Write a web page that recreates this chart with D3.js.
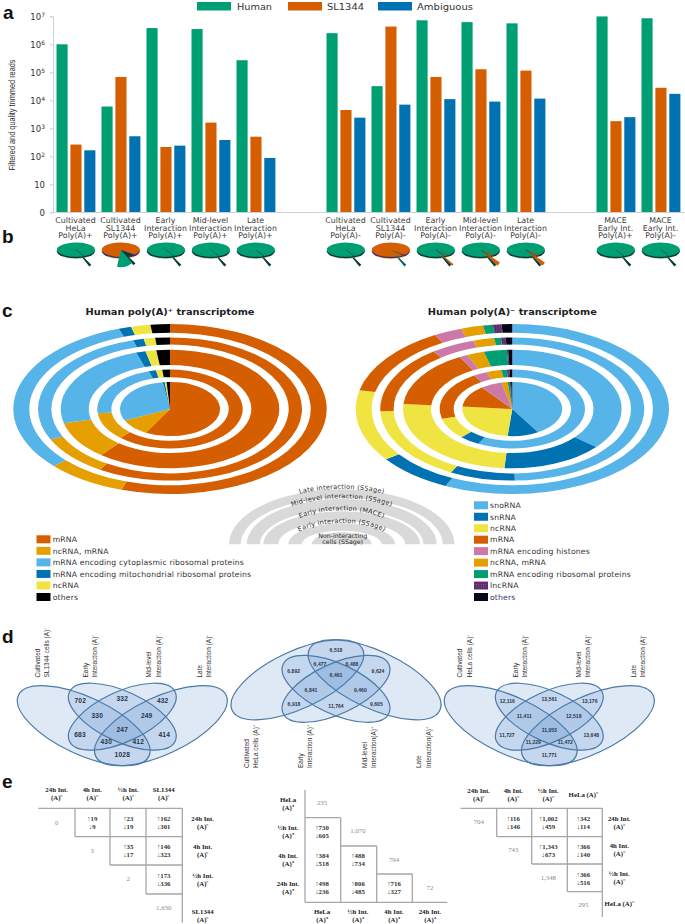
<!DOCTYPE html>
<html><head><meta charset="utf-8">
<script src="https://cdn.jsdelivr.net/npm/d3@7"></script>
<style>html,body{margin:0;padding:0;background:#fff}svg{display:block;opacity:.999}</style>
</head><body><svg id="c" width="685" height="924"></svg>
<script>
// ---------- DATA ----------
const groups = ["HeLaA+","SLA+","EarlyA+","MidA+","LateA+","gap1","HeLaA-","SLA-","EarlyA-","MidA-","LateA-","gap2","MaceA+","MaceA-"];
const groupLabels = [
 ["Cultivated","HeLa","Poly(A)+"],["Cultivated","SL1344","Poly(A)+"],["Early","Interaction","Poly(A)+"],["Mid-level","Interaction","Poly(A)+"],["Late","Interaction","Poly(A)+"],[],
 ["Cultivated","HeLa","Poly(A)-"],["Cultivated","SL1344","Poly(A)-"],["Early","Interaction","Poly(A)-"],["Mid-level","Interaction","Poly(A)-"],["Late","Interaction","Poly(A)-"],[],
 ["MACE","Early Int.","Poly(A)+"],["MACE","Early Int.","Poly(A)-"]];
const seriesNames = ["Human","SL1344","Ambiguous"];
const human     = [1000000,6000,3800000,3500000,270000,null,2500000,32000,7200000,6200000,5600000,null,9900000,8500000];
const sl1344    = [263,68000,215,1600,500,null,4500,4300000,68000,128000,115000,null,1800,28000];
const ambiguous = [164,520,240,383,87,null,2400,7000,11000,9000,11500,null,2500,17000];
const yTicks = [1,10,100,1000,10000,100000,1000000,10000000];

const plusTitle = "Human poly(A)\u207A transcriptome";
const plusCats = ["mRNA","ncRNA, mRNA","mRNA encoding cytoplasmic ribosomal proteins","mRNA encoding mitochondrial ribosomal proteins","ncRNA","others"];
const plusNonInteracting = [58.1,10.0,29.7,0.6,0.6,1.1];
const plusEarlySSage     = [61.9,11.3,22.0,1.6,1.4,1.7];
const plusEarlyMACE      = [60.8,10.3,23.8,1.4,1.6,2.0];
const plusMid            = [58.9,9.1,27.5,1.3,1.4,1.8];
const plusLate           = [55.0,8.3,31.4,1.3,2.0,2.0];

const minusTitle = "Human poly(A)\u207B transcriptome";
const minusCats = ["snoRNA","snRNA","ncRNA","mRNA","mRNA encoding histones","ncRNA, mRNA","mRNA encoding ribosomal proteins","lncRNA","others"];
const minusNonInteracting = [41.4,10.1,24.9,13.2,6.9,2.0,0.7,0.4,0.4];
const minusEarlySSage     = [57.8,4.6,8.7,20.2,3.0,3.4,1.2,0.6,0.6];
const minusEarlyMACE      = [36.1,15.1,25.2,15.7,1.2,2.6,3.4,0.2,0.6];
const minusMid            = [49.7,8.0,16.8,15.3,5.4,2.6,0.8,0.6,0.8];
const minusLate           = [56.9,7.9,13.6,13.2,2.9,2.3,1.0,0.9,1.1];

const keyLabels = ["Late interaction (SSage)","Mid-level interaction (SSage)","Early interaction (MACE)","Early interaction (SSage)"];
const keyCentre = ["Non-interacting","cells (SSage)"];

const vennSLValues    = ["702","332","432","330","249","683","247","414","430","412","1028"];
const vennHeLaPlusVal = ["6,918","11,764","9,605","6,841","9,460","6,892","6,461","9,624","6,477","6,488","6,518"];
const vennHeLaMinVal  = ["12,116","13,561","13,176","11,411","12,518","11,727","11,053","13,648","11,229","11,472","11,771"];
const vennSLNames   = [["Cultivated","SL1344 cells (A)\u207B"],["Early","Interaction (A)\u207B"],["Mid-level","Interaction (A)\u207B"],["Late","Interaction (A)\u207B"]];
const vennPlusNames = [["Cultivated","HeLa cells (A)\u207A"],["Early","Interaction (A)\u207A"],["Mid-level","Interaction(A)\u207A"],["Late","Interaction(A)\u207A"]];
const vennMinNames  = [["Cultivated","HeLa cells (A)\u207B"],["Early","Interaction (A)\u207B"],["Mid-level","Interaction (A)\u207B"],["Late","Interaction (A)\u207B"]];

const tblLeftHead = [["24h Int.","(A)\u207B"],["4h Int.","(A)\u207B"],["\u00BDh Int.","(A)\u207B"],["SL1344","(A)\u207B"]];
const tblLeftDiag = ["0","3","2","1,630"];
const tblLeftUp   = [["19","23","162"],["35","146"],["173"]];
const tblLeftDown = [["9","19","301"],["17","323"],["336"]];
const tblMidHead  = [["HeLa","(A)\u207A"],["\u00BDh Int.","(A)\u207A"],["4h Int.","(A)\u207A"],["24h Int.","(A)\u207A"]];
const tblMidDiag  = ["235","1,070","794","72"];
const tblMidUp    = [["730","384","498"],["488","806"],["716"]];
const tblMidDown  = [["605","518","236"],["734","485"],["327"]];
const tblRightHead = [["24h Int.","(A)\u207B"],["4h Int.","(A)\u207B"],["\u00BDh Int.","(A)\u207B"],["HeLa (A)\u207B"]];
const tblRightDiag = ["704","743","1,348","295"];
const tblRightUp   = [["116","1,002","342"],["1,343","366"],["366"]];
const tblRightDown = [["146","459","114"],["673","140"],["516"]];

// ---------- STYLE ----------
const GREEN="#009e73",ORANGE="#d55e00",BLUE="#0072b2",SKY="#56b4e9",AMBER="#e69f00",YELLOW="#f0e442",PINK="#cc79a7",BLACK="#000",NAVY="#06061a";
const WIDE="'DejaVu Sans',sans-serif", ARIAL="'Liberation Sans',Arial,sans-serif", SERIF="'Liberation Serif',serif";
const svg=d3.select("#c");
const defs=svg.append("defs");
const pat=defs.append("pattern").attr("id","lnc").attr("width",2.4).attr("height",2.4).attr("patternUnits","userSpaceOnUse");
pat.append("rect").attr("width",2.4).attr("height",2.4).attr("fill","#5a2a78");
pat.append("circle").attr("cx",1.2).attr("cy",1.2).attr("r",.45).attr("fill","#c9803a");
const LNC="url(#lnc)";
const plusColors=[ORANGE,AMBER,SKY,BLUE,YELLOW,BLACK];
const minusColors=[SKY,BLUE,YELLOW,ORANGE,PINK,AMBER,GREEN,LNC,NAVY];
const seriesColors=[GREEN,ORANGE,BLUE];

function txt(g,x,y,s,o={}){
  const t=g.append("text").attr("x",x).attr("y",y).text(s)
    .attr("font-family",o.f||WIDE).attr("font-size",o.s||8).attr("fill",o.c||"#333")
    .attr("text-anchor",o.a||"start");
  if(o.w)t.attr("font-weight",o.w);
  if(o.tl)t.attr("textLength",o.tl).attr("lengthAdjust","spacingAndGlyphs");
  return t;
}
// panel letters
[["a",3,19],["b",2,243],["c",2,317],["d",2,643],["e",2,788]].forEach(d=>txt(svg,d[1],d[2],d[0],{f:ARIAL,s:19,w:"bold",c:"#111"}));

// ---------- a: bars ----------
const x=d3.scaleBand().domain(groups).range([53,683]);
const xInner=d3.scaleBand().domain(seriesNames).range([-19,19.9]).paddingInner(.2);
const y=d3.scaleLog().domain([1,1e7]).range([212.3,16.3]);
const barsG=svg.append("g");
[human,sl1344,ambiguous].forEach((vals,si)=>{
  barsG.selectAll(null).data(vals.map((v,i)=>({v,i})).filter(d=>d.v!=null)).join("rect")
   .attr("x",d=>x(groups[d.i])+x.bandwidth()/2+xInner(seriesNames[si]))
   .attr("width",xInner.bandwidth())
   .attr("y",d=>y(d.v)).attr("height",d=>y(1)-y(d.v)).attr("fill",seriesColors[si]);
});
const sup={100:"2",1000:"3",10000:"4",100000:"5",1000000:"6",10000000:"7"};
const ya=svg.append("g").attr("transform","translate(53,0)")
  .call(d3.axisLeft(y).tickValues(yTicks).tickSize(3).tickFormat(()=>""));
ya.selectAll("line,path").attr("stroke","#c8d0dc");
ya.selectAll(".tick text").each(function(d){
  const t=d3.select(this).attr("x",-8).attr("dy",null).attr("y",3.2).attr("font-family",WIDE).attr("font-size",8.5).attr("fill","#333");
  if(d===1)t.text("0"); else if(d===10)t.text("10");
  else{t.text("10");t.append("tspan").attr("dy",-3).attr("font-size",6).text(sup[d]);}
});
svg.append("line").attr("x1",53).attr("x2",685).attr("y1",212.5).attr("y2",212.5).attr("stroke","#c8d0dc");
txt(svg,0,0,"Filtered and quality trimmed reads",{f:ARIAL,s:9,c:"#333",a:"middle",tl:111})
  .attr("transform","translate(15,115) rotate(-90)");
groups.forEach((g,i)=>groupLabels[i].forEach((s,j)=>{
  txt(svg,x(g)+x.bandwidth()/2,223+j*7.6,s,{s:7.9,a:"middle",c:"#3c3c3c"});
}));
// legend
[[197,237,35],[288,327,37],[378,417,56]].forEach((p,i)=>{
  svg.append("rect").attr("x",p[0]).attr("y",2).attr("width",34).attr("height",8.5).attr("fill",seriesColors[i]);
  txt(svg,p[1],9.5,seriesNames[i],{s:8,c:"#333",tl:p[2]});
});

// ---------- b: pies ----------
const pieGen=d3.pie().sort(null).value(d=>d);
const flat=d3.arc().innerRadius(0).outerRadius(19);
const deg=Math.PI/180;
groups.forEach((g,i)=>{
  if(human[i]==null)return;
  const vals=[human[i],sl1344[i],ambiguous[i]];
  const total=d3.sum(vals), cx=x(g)+x.bandwidth()/2+.3, cy=249.7;
  const major=vals.indexOf(d3.max(vals));
  const pg=svg.append("g").attr("transform",`translate(${cx},${cy})`);
  pg.append("ellipse").attr("cy",2.4).attr("rx",18.2).attr("ry",7).attr("fill",major===1?"#e8c840":"#c8d89a");
  pg.append("ellipse").attr("cy",1.6).attr("rx",19).attr("ry",7).attr("fill",major===1?"#4a2a78":"#0d3a3c");
  const sliceData=pieGen(vals);
  const off=137*deg-(sliceData[major===0?1:0].startAngle);
  const top=pg.append("g").attr("transform","scale(1,0.375)");
  top.selectAll(null).data(sliceData).join("path")
    .attr("d",d=>flat({startAngle:d.startAngle+off,endAngle:d.endAngle+off}))
    .attr("fill",(d,k)=>major===1&&k!==1?"#0d3a3c":seriesColors[k]);
  if(i===1){ // exploded human wedge of the SL1344 sample
    const s=sliceData[0], w=s.endAngle-s.startAngle;
    const wedge=d3.arc().innerRadius(0).outerRadius(17.5);
    pg.append("path").attr("d",d3.arc().innerRadius(0).outerRadius(20)({startAngle:133*deg,endAngle:141*deg})).attr("fill","#0d3a3c");
    pg.append("path").attr("d",wedge({startAngle:166*deg-w*.92,endAngle:166*deg+w*.92})).attr("fill",GREEN);
    return;
  }
  const pointer=d3.arc().innerRadius(11).outerRadius(21.5);
  const slShare=vals[1]/total;
  if(major===0 && slShare>0.005){
    const acc=d3.arc().innerRadius(3).outerRadius(23);
    const w=slShare*Math.PI*2*1.4;
    pg.append("path").attr("d",acc({startAngle:134*deg-w,endAngle:134*deg})).attr("fill",ORANGE);
  }
  pg.append("path").attr("d",pointer({startAngle:134*deg,endAngle:141*deg})).attr("fill",major===1?"#0e6a5c":"#0d3a3c");
  pg.append("path").attr("d",d3.line()([[0,0],[9,7]])).attr("stroke",major===1?GREEN:"#0d3a3c").attr("stroke-width",.7).attr("opacity",.8);
});

// ---------- c: donuts ----------
const ringBands=[[0,50],[58.7,72.7],[81.3,109.3],[118.7,132],[140.7,156.7]];
const FLAT=85/156.7;
function donut(cx,cy,rings,colors){
  const g=svg.append("g").attr("transform",`translate(${cx},${cy}) scale(1,${FLAT})`);
  rings.forEach((vals,r)=>{
    const arc=d3.arc().innerRadius(ringBands[r][0]).outerRadius(ringBands[r][1]);
    g.selectAll(null).data(pieGen(vals)).join("path").attr("d",arc).attr("fill",(d,i)=>colors[i]);
  });
}
donut(170,409,[plusNonInteracting,plusEarlySSage,plusEarlyMACE,plusMid,plusLate],plusColors);
donut(512.3,409,[minusNonInteracting,minusEarlySSage,minusEarlyMACE,minusMid,minusLate],minusColors);
txt(svg,170,314.7,plusTitle,{s:8.6,w:"bold",a:"middle",c:"#222",tl:169});
txt(svg,512.3,314.7,minusTitle,{s:8.6,w:"bold",a:"middle",c:"#222",tl:169});

// legends
const legPlusY=d3.scalePoint().domain(plusCats).range([539.3,597]);
plusCats.forEach((c,i)=>{
  svg.append("rect").attr("x",36.5).attr("y",legPlusY(c)-4).attr("width",14).attr("height",8).attr("fill",plusColors[i]);
  txt(svg,52.7,legPlusY(c)+2.8,c,{s:7.7,c:"#333"}).attr("letter-spacing",.16);
});
const legMinusY=d3.scalePoint().domain(minusCats).range([505.3,597]);
minusCats.forEach((c,i)=>{
  svg.append("rect").attr("x",474).attr("y",legMinusY(c)-4).attr("width",14).attr("height",8).attr("fill",minusColors[i]);
  txt(svg,490,legMinusY(c)+2.8,c,{s:7.7,c:i===8?"#33336a":"#333"}).attr("letter-spacing",.16);
});

// key semicircles (outer rx/ry, inner rx/ry)
const KX=341.7,KY=544.3;
const keyBands=[[112.7,55,101,46.7],[95,45.3,81.7,35],[78.4,33,63.4,23.5],[53.4,21,40,13.5],[30,12,0,0]];
const keyG=svg.append("g");
keyBands.forEach(b=>{
  const [ro,so,ri,si]=b;
  let p=`M${KX-ro},${KY} A${ro},${so} 0 0 1 ${KX+ro},${KY}`;
  p+= ri? ` L${KX+ri},${KY} A${ri},${si} 0 0 0 ${KX-ri},${KY} Z` : " Z";
  keyG.append("path").attr("d",p).attr("fill","#d9d9d9");
});
const keyPaths=[[103,55.5],[88,46],[65,34],[52.6,21.3]];
keyLabels.forEach((s,i)=>{
  const [rx,ry]=keyPaths[i];
  const id="kp"+i;
  defs.append("path").attr("id",id).attr("d",`M${KX-rx},${KY} A${rx},${ry} 0 0 1 ${KX+rx},${KY}`);
  keyG.append("text").attr("font-family",WIDE).attr("font-size",6.5).attr("letter-spacing",.25).attr("fill","#2a2a2a")
    .append("textPath").attr("href","#"+id).attr("startOffset","50%").attr("text-anchor","middle").text(s);
});
keyCentre.forEach((s,i)=>txt(keyG,KX+1,537.5+i*6.2,s,{s:6.3,a:"middle",c:"#2a2a2a"}));

// ---------- d: venns ----------
const vennEll=[[-38.6,-4.3,72,28.7,25],[38.6,-4.3,72,28.7,-25],[0,-13.3,58.3,25,25],[0,-13.3,58.3,25,-25]];
const vennSlots=[[-42,-29],[0,-31],[40.4,-29],[-25,-14.3],[24.4,-14.3],[-42.3,4.7],[0,0],[42,4.7],[-16,11.7],[16,11.7],[0,25]];
function venn(cx,cy,flip,values,fs,ls){
  const g=svg.append("g").attr("transform",`translate(${cx},${cy}) scale(1,${flip})`);
  g.selectAll(null).data(vennEll).join("ellipse")
   .attr("transform",d=>`translate(${d[0]},${d[1]}) rotate(${d[4]})`)
   .attr("rx",d=>d[2]).attr("ry",d=>d[3])
   .attr("fill","#5f8fd0").attr("fill-opacity",.2);
  g.selectAll(null).data(vennEll).join("ellipse")
   .attr("transform",d=>`translate(${d[0]},${d[1]}) rotate(${d[4]})`)
   .attr("rx",d=>d[2]).attr("ry",d=>d[3])
   .attr("fill","none").attr("stroke","#4b7aa6").attr("stroke-width",1.2);
  values.forEach((v,i)=>{
    txt(svg,cx+vennSlots[i][0],cy+flip*vennSlots[i][1]+fs*.36,v,{f:ARIAL,s:fs,w:"bold",a:"middle",c:"#26344a"}).attr("letter-spacing",ls);
  });
}
venn(122.3,730,1,vennSLValues,6.6,.2);
venn(336,675.5,-1,vennHeLaPlusVal,5,.05);
venn(549.3,730,1,vennHeLaMinVal,5,.05);
function vennNames(names,xs,yBase){
  names.forEach((pair,i)=>pair.forEach((s,j)=>{
    txt(svg,0,0,s,{f:ARIAL,s:6.5,c:"#333"}).attr("transform",`translate(${xs[i][j]},${yBase}) rotate(-90)`);
  }));
}
vennNames(vennSLNames,[[39.5,49],[88,97],[151,160.5],[201.5,211]],677.5);
vennNames(vennPlusNames,[[248.5,258],[302.5,311.5],[367,376],[421,430.5]],768);
vennNames(vennMinNames,[[462,471.5],[517.5,526.5],[581,590],[635.5,645]],677.5);

// ---------- e: tables ----------
const LINE="#a6a6a6", sF={f:SERIF,s:6.8,a:"middle"};
function hdr(xp,yp,pair,col){pair.forEach((s,j)=>txt(svg,xp,yp+j*8.2+2.2,s,{...sF,w:"bold",c:col||"#222"}));}
function cell(xp,y1,y2,u,d){
  txt(svg,xp,y1+2.2,"\u2191"+u,{...sF,w:"bold",c:"#333"});
  txt(svg,xp,y2+2.2,"\u2193"+d,{...sF,w:"bold",c:"#333"});
}
function diag(xp,yp,s){txt(svg,xp,yp+2.2,s,{...sF,c:"#8a8a8a"});}
function ln(a,b,c,d){svg.append("line").attr("x1",a).attr("y1",b).attr("x2",c).attr("y2",d).attr("stroke",LINE).attr("stroke-width",1.3);}
function upperTable(xs,ys,colX,diagY,headY,rowLabX,rowLabY,head,dg,up,dn,lineX0,lineY1){
  ln(lineX0,ys[0],xs[3],ys[0]); ln(xs[3],ys[0],xs[3],lineY1);
  up.forEach((row,r)=>{
    ln(xs[r],ys[0],xs[r],ys[r+1]); ln(xs[r],ys[r+1],xs[3],ys[r+1]);
    row.forEach((u,k)=>cell(colX[r+k+1],ys[r]+10.4,ys[r]+18.4,u,dn[r][k]));
  });
  head.forEach((h,i)=>{
    if(h.length>1)hdr(colX[i],headY,h); else hdr(colX[i],headY+4,h);
    if(h.length>1)hdr(rowLabX,rowLabY[i],h); else hdr(rowLabX,rowLabY[i]+3.5,h);
    diag(colX[i],diagY[i],dg[i]);
  });
}
upperTable([75,110,146,182.3],[808.3,836.7,865,894],[56.7,92.3,128.3,163.7],[822.3,850.7,879,907.3],789.3,202.7,[818.7,847,875.5,912],
  tblLeftHead,tblLeftDiag,tblLeftUp,tblLeftDown,38.3,922.7);
upperTable([496.7,531.7,567.3,602.3],[808.3,836.7,864,891.7],[478.7,513.3,548.3,583.3],[821.7,849.3,877.3,904.3],790.7,619.3,[818.3,846,873.5,900.5],
  tblRightHead,tblRightDiag,tblRightUp,tblRightDown,460.7,917);
(function(){
  const xs=[305,340.7,376.7,412.3], ys=[817.7,846,874,902.3];
  const colX=[322,358,394,430], rowY=[799.3,827.3,855.7,883.3], dY=[802.7,831,859.3,887.7];
  ln(305,790,305,902.3); ln(305,902.3,447.3,902.3);
  tblMidUp.forEach((col,c)=>{
    ln(xs[c+1],ys[c],xs[c+1],ys[3]); ln(xs[c],ys[c],xs[c+1],ys[c]);
    col.forEach((u,k)=>{
      const r=c+k;
      cell(colX[c],ys[r]+9.6,ys[r]+18,u,tblMidDown[c][k]);
    });
  });
  tblMidHead.forEach((h,i)=>{
    hdr(288,rowY[i],h); hdr(colX[i],911.7,h); diag(colX[i],dY[i],tblMidDiag[i]);
  });
})();
</script></body></html>
